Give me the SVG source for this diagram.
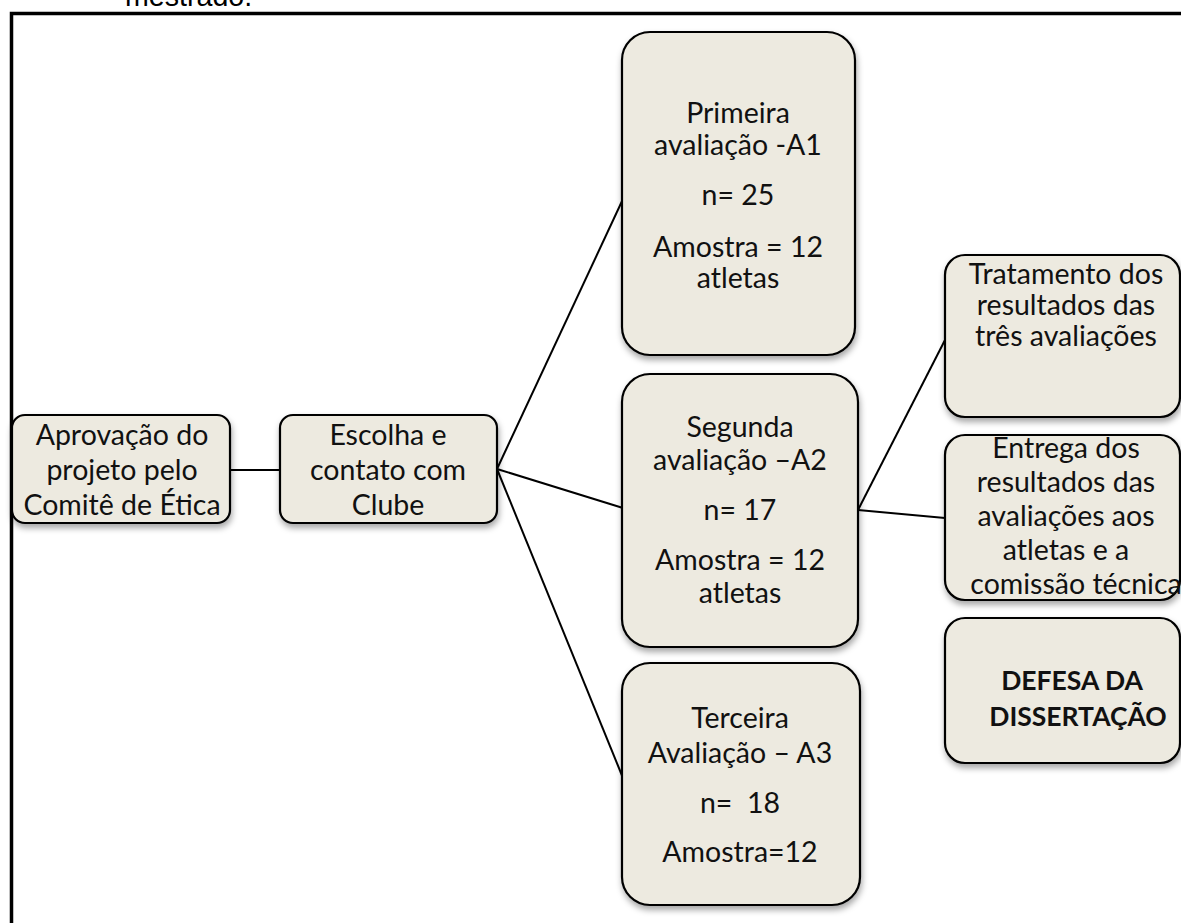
<svg xmlns="http://www.w3.org/2000/svg" width="1181" height="923" viewBox="0 0 1181 923">
<defs>
<filter id="sh" x="-10%" y="-10%" width="130%" height="130%">
<feDropShadow dx="1" dy="4" stdDeviation="3" flood-color="#000" flood-opacity="0.35"/>
</filter>
<style>
.box{fill:#EDEAE0;stroke:#000;stroke-width:2.2;filter:url(#sh)}
.t{font-family:Lato,"Open Sans",sans-serif;font-size:28.5px;fill:#111;text-anchor:middle}
.b{font-weight:bold;font-size:26.5px}
.c{stroke:#000;stroke-width:2;fill:none}
</style>
</defs>
<rect width="1181" height="923" fill="#fff"/>
<text x="125" y="6" style="font-family:'Liberation Sans',Arial,sans-serif;font-size:28.6px;fill:#000">mestrado.</text>
<path d="M11.5,923 V13.5 H1181" fill="none" stroke="#000" stroke-width="3.5"/>
<g id="connectors">
<line class="c" x1="230" y1="470" x2="280" y2="470"/>
<line class="c" x1="497" y1="469" x2="623" y2="199"/>
<line class="c" x1="497" y1="469" x2="623" y2="508"/>
<line class="c" x1="497" y1="469" x2="623" y2="778"/>
<line class="c" x1="858" y1="510" x2="945" y2="340"/>
<line class="c" x1="858" y1="510" x2="945" y2="518"/>
</g>
<g id="aprovacao">
<rect class="box" x="12" y="415" width="218" height="108" rx="13"/>
<text class="t" x="122" y="445">Aprovação do</text>
<text class="t" x="122" y="480">projeto pelo</text>
<text class="t" x="122" y="515">Comitê de Ética</text>
</g>
<g id="escolha">
<rect class="box" x="280" y="415" width="217" height="108" rx="13"/>
<text class="t" x="388" y="445">Escolha e</text>
<text class="t" x="388" y="480">contato com</text>
<text class="t" x="388" y="515">Clube</text>
</g>
<g id="primeira">
<rect class="box" x="622" y="32" width="233" height="323" rx="28"/>
<text class="t" x="738" y="123">Primeira</text>
<text class="t" x="738" y="155">avaliação -A1</text>
<text class="t" x="738" y="205">n= 25</text>
<text class="t" x="738" y="257">Amostra = 12</text>
<text class="t" x="738" y="288">atletas</text>
</g>
<g id="segunda">
<rect class="box" x="622" y="374" width="236" height="273" rx="28"/>
<text class="t" x="740" y="437">Segunda</text>
<text class="t" x="740" y="470">avaliação –A2</text>
<text class="t" x="740" y="520">n= 17</text>
<text class="t" x="740" y="570">Amostra = 12</text>
<text class="t" x="740" y="603">atletas</text>
</g>
<g id="terceira">
<rect class="box" x="622" y="663" width="238" height="242" rx="28"/>
<text class="t" x="740" y="728">Terceira</text>
<text class="t" x="740" y="763">Avaliação – A3</text>
<text class="t" x="740" y="813" xml:space="preserve">n=  18</text>
<text class="t" x="740" y="862">Amostra=12</text>
</g>
<g id="tratamento">
<rect class="box" x="945" y="255" width="235" height="162" rx="20"/>
<text class="t" x="1066" y="284">Tratamento dos</text>
<text class="t" x="1066" y="315">resultados das</text>
<text class="t" x="1066" y="346">três avaliações</text>
</g>
<g id="entrega">
<rect class="box" x="945" y="435" width="235" height="165" rx="20"/>
<text class="t" x="1066" y="458">Entrega dos</text>
<text class="t" x="1066" y="492">resultados das</text>
<text class="t" x="1066" y="526">avaliações aos</text>
<text class="t" x="1066" y="560">atletas e a</text>
<text class="t" x="1076" y="594">comissão técnica</text>
</g>
<g id="defesa">
<rect class="box" x="945" y="618" width="235" height="145" rx="20"/>
<text class="t b" x="1072" y="690">DEFESA DA</text>
<text class="t b" x="1078" y="726">DISSERTAÇÃO</text>
</g>
</svg>
